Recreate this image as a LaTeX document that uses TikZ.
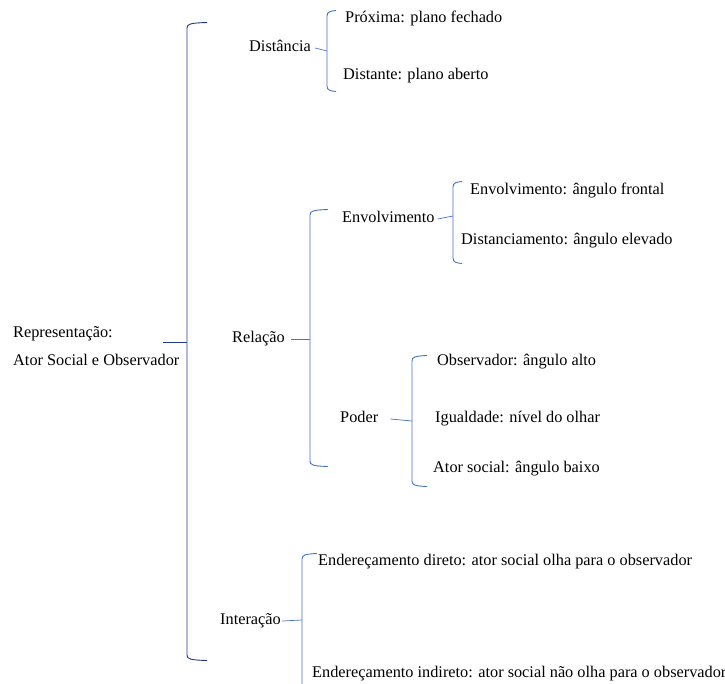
\documentclass[tikz,border=0pt]{standalone}
\usepackage{fontspec}
\setmainfont{Liberation Serif}
\usepackage{tikz}

\definecolor{chaveescura}{RGB}{32,56,140}
\definecolor{chaveclara}{RGB}{68,114,196}

% left brace: x, top, bottom, hook length
\newcommand{\chaveesq}[4]{%
  \draw (#1+#4,#2-1.5) .. controls (#1+3,#2-1) and (#1,#2) .. (#1,#2+4)
    -- (#1,#3-4) .. controls (#1,#3) and (#1+3,#3+1) .. (#1+#4,#3+1.5);}

\begin{document}
\begin{tikzpicture}[x=1pt,y=-1pt]
  \useasboundingbox (0,0) rectangle (725,683);

  \begin{scope}[every node/.style={anchor=west,inner sep=0pt,
      text height=11pt,text depth=3.5pt,font=\fontsize{16.3}{19}\selectfont}]
    \node (rep) at (13,334) {Representação:};
    \node (ator) at (13,362) {Ator Social e Observador};
    \node (dist) at (249,48) {Distância};
    \node (prox) at (345,19) {Próxima: plano fechado};
    \node (dnte) at (343,76) {Distante: plano aberto};
    \node (rel) at (232,339) {Relação};
    \node (env) at (342,219) {Envolvimento};
    \node (envf) at (470,191) {Envolvimento: ângulo frontal};
    \node (disc) at (461,241) {Distanciamento: ângulo elevado};
    \node (pod) at (340,419) {Poder};
    \node (obs) at (437,362) {Observador: ângulo alto};
    \node (igu) at (435,419) {Igualdade: nível do olhar};
    \node (ats) at (433,469) {Ator social: ângulo baixo};
    \node (int) at (220,621) {Interação};
    \node (endd) at (318,562) {Endereçamento direto: ator social olha para o observador};
    \node (endi) at (312,674) {Endereçamento indireto: ator social não olha para o observador};
  \end{scope}

  \begin{scope}[line width=0.9pt]
    \coordinate (c0) at (163,342);
    \coordinate (p0) at (187,342);
    \coordinate (p1) at (327,51);
    \coordinate (p2) at (310,339);
    \coordinate (p3) at (453,216);
    \coordinate (p4) at (412,421);
    \coordinate (p5) at (302,620);

    \begin{scope}[draw=chaveescura]
      \chaveesq{187}{24}{659}{20}
      \draw[line width=0.7pt] (c0) -- (p0);
    \end{scope}

    \begin{scope}[draw=chaveclara]
      \chaveesq{327}{12}{90}{9}
      \draw[line width=0.7pt] ([xshift=4pt]dist.east) -- (p1);
      \chaveesq{310}{211}{465}{18}
      \draw[line width=0.7pt] ([xshift=6pt]rel.east) -- (p2);
      \chaveesq{453}{183}{262}{9}
      \draw[line width=0.7pt] ([xshift=3pt]env.east) -- (p3);
      \chaveesq{412}{357}{485}{15}
      \draw[line width=0.7pt] ([xshift=12pt]pod.east) -- (p4);
      \chaveesq{302}{555}{700}{15}
      \draw[line width=0.7pt] ([xshift=1pt]int.east) -- (p5);
    \end{scope}
  \end{scope}
\end{tikzpicture}
\end{document}
